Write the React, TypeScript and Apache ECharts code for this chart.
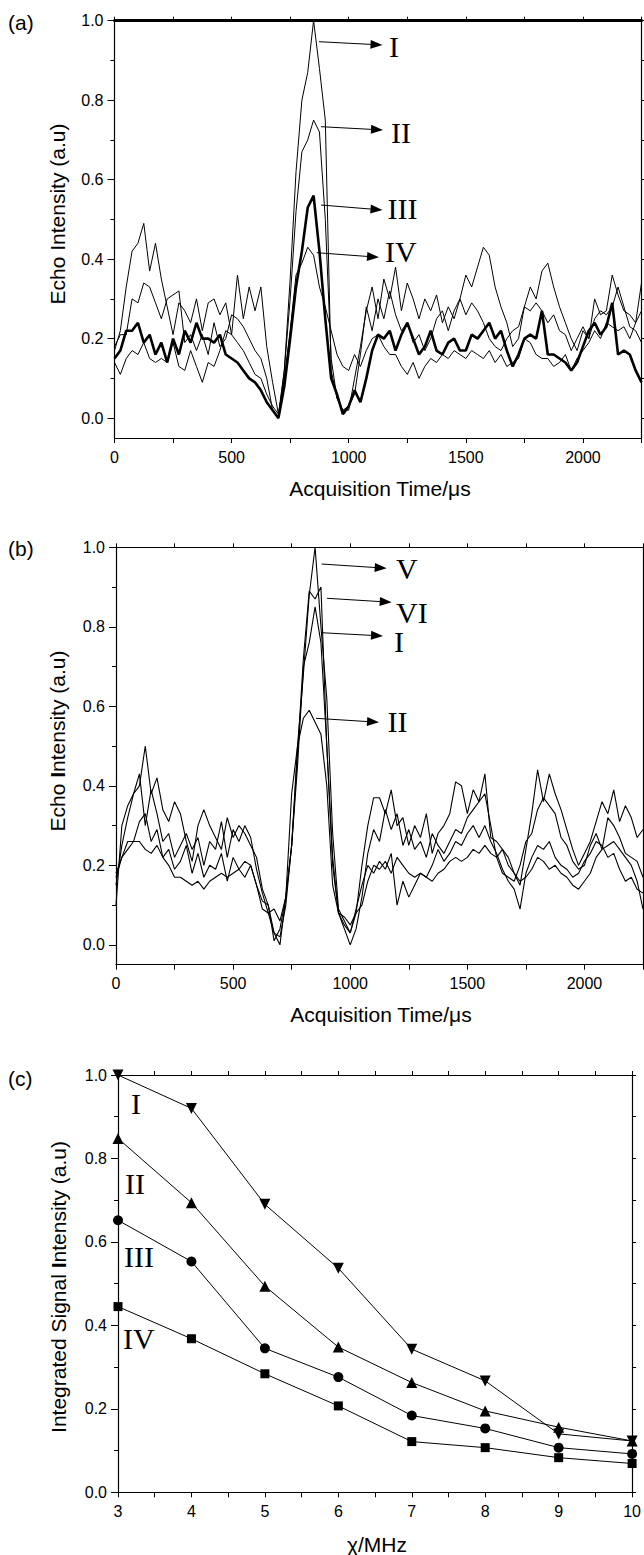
import React, { useEffect, useRef } from "react";
import * as echarts from "echarts";

// ---------- DATA ----------
// acquisition times (µs) of the sampled echo traces, every 25 µs from 0 to 2250
const times: number[] = Array.from({ length: 91 }, (_, i) => i * 25);

// panel (a) echo traces
const aI: number[] = [
  0.17, 0.22, 0.33, 0.42, 0.44, 0.49, 0.37, 0.44, 0.35, 0.28,
  0.21, 0.29, 0.27, 0.24, 0.30, 0.22, 0.29, 0.30, 0.26, 0.29,
  0.21, 0.36, 0.25, 0.33, 0.27, 0.33, 0.18, 0.09, 0.01, 0.12,
  0.35, 0.62, 0.80, 0.87, 1.00, 0.88, 0.75, 0.12, 0.05, 0.02,
  0.02, 0.10, 0.18, 0.27, 0.33, 0.25, 0.35, 0.30, 0.38, 0.27,
  0.34, 0.30, 0.25, 0.30, 0.27, 0.31, 0.24, 0.28, 0.25, 0.30,
  0.36, 0.33, 0.38, 0.43, 0.41, 0.33, 0.28, 0.24, 0.18, 0.20,
  0.28, 0.33, 0.30, 0.37, 0.39, 0.33, 0.28, 0.24, 0.20, 0.17,
  0.22, 0.20, 0.30, 0.26, 0.27, 0.36, 0.31, 0.27, 0.26, 0.24,
  0.34,
];
const aII: number[] = [
  0.18, 0.21, 0.21, 0.30, 0.29, 0.34, 0.33, 0.29, 0.25, 0.30,
  0.31, 0.32, 0.19, 0.21, 0.17, 0.21, 0.16, 0.24, 0.18, 0.20,
  0.26, 0.25, 0.23, 0.20, 0.17, 0.15, 0.10, 0.02, 0.00, 0.12,
  0.30, 0.52, 0.67, 0.70, 0.75, 0.72, 0.50, 0.15, 0.05, 0.02,
  0.03, 0.06, 0.16, 0.28, 0.22, 0.30, 0.25, 0.32, 0.26, 0.22,
  0.24, 0.19, 0.21, 0.17, 0.20, 0.25, 0.27, 0.22, 0.27, 0.30,
  0.26, 0.29, 0.27, 0.24, 0.20, 0.18, 0.17, 0.20, 0.22, 0.23,
  0.28, 0.27, 0.29, 0.27, 0.24, 0.26, 0.22, 0.21, 0.17, 0.20,
  0.23, 0.20, 0.25, 0.27, 0.26, 0.28, 0.33, 0.28, 0.23, 0.22,
  0.19,
];
const aIII: number[] = [
  0.15, 0.17, 0.22, 0.22, 0.24, 0.19, 0.21, 0.16, 0.19, 0.14,
  0.20, 0.16, 0.22, 0.19, 0.24, 0.20, 0.20, 0.19, 0.21, 0.16,
  0.15, 0.14, 0.12, 0.10, 0.09, 0.07, 0.04, 0.02, 0.00, 0.08,
  0.20, 0.33, 0.42, 0.53, 0.56, 0.42, 0.25, 0.10, 0.06, 0.01,
  0.03, 0.07, 0.04, 0.10, 0.17, 0.21, 0.20, 0.22, 0.17, 0.21,
  0.24, 0.20, 0.16, 0.18, 0.22, 0.17, 0.16, 0.19, 0.20, 0.17,
  0.17, 0.21, 0.20, 0.22, 0.24, 0.20, 0.22, 0.17, 0.13, 0.16,
  0.20, 0.21, 0.20, 0.27, 0.16, 0.16, 0.15, 0.14, 0.12, 0.14,
  0.18, 0.22, 0.24, 0.21, 0.23, 0.29, 0.16, 0.17, 0.16, 0.12,
  0.09,
];
const aIV: number[] = [
  0.14, 0.11, 0.15, 0.17, 0.16, 0.19, 0.15, 0.14, 0.15, 0.14,
  0.19, 0.13, 0.12, 0.17, 0.13, 0.09, 0.14, 0.13, 0.17, 0.22,
  0.21, 0.19, 0.17, 0.14, 0.11, 0.10, 0.06, 0.03, 0.01, 0.10,
  0.22, 0.36, 0.39, 0.43, 0.41, 0.33, 0.28, 0.22, 0.16, 0.13,
  0.12, 0.16, 0.13, 0.17, 0.20, 0.21, 0.18, 0.16, 0.16, 0.13,
  0.11, 0.14, 0.10, 0.13, 0.15, 0.14, 0.16, 0.15, 0.17, 0.16,
  0.15, 0.17, 0.16, 0.15, 0.17, 0.14, 0.16, 0.13, 0.14, 0.15,
  0.20, 0.19, 0.16, 0.15, 0.15, 0.13, 0.14, 0.16, 0.12, 0.15,
  0.17, 0.19, 0.22, 0.20, 0.24, 0.23, 0.22, 0.23, 0.20, 0.24,
  0.27,
];

// panel (b) echo traces
const bV: number[] = [
  0.10, 0.30, 0.35, 0.38, 0.40, 0.50, 0.38, 0.42, 0.34, 0.31,
  0.36, 0.33, 0.26, 0.21, 0.30, 0.34, 0.30, 0.27, 0.24, 0.32,
  0.27, 0.30, 0.28, 0.25, 0.22, 0.14, 0.10, 0.03, 0.02, 0.10,
  0.25, 0.50, 0.68, 0.88, 1.00, 0.80, 0.62, 0.28, 0.09, 0.06,
  0.03, 0.08, 0.20, 0.30, 0.37, 0.37, 0.33, 0.39, 0.30, 0.32,
  0.25, 0.30, 0.27, 0.33, 0.23, 0.28, 0.30, 0.33, 0.41, 0.40,
  0.33, 0.39, 0.36, 0.43, 0.27, 0.26, 0.24, 0.22, 0.18, 0.15,
  0.24, 0.33, 0.44, 0.36, 0.43, 0.38, 0.34, 0.29, 0.24, 0.20,
  0.23, 0.26, 0.31, 0.36, 0.33, 0.39, 0.31, 0.35, 0.32, 0.27,
  0.29,
];
const bVI: number[] = [
  0.15, 0.25, 0.32, 0.38, 0.43, 0.30, 0.39, 0.33, 0.26, 0.28,
  0.22, 0.25, 0.28, 0.24, 0.27, 0.20, 0.26, 0.24, 0.31, 0.22,
  0.29, 0.26, 0.30, 0.27, 0.19, 0.13, 0.08, 0.03, 0.00, 0.12,
  0.25, 0.48, 0.72, 0.89, 0.87, 0.90, 0.50, 0.22, 0.08, 0.04,
  0.00, 0.04, 0.12, 0.23, 0.29, 0.26, 0.34, 0.29, 0.33, 0.25,
  0.29, 0.24, 0.26, 0.22, 0.28, 0.25, 0.23, 0.26, 0.29, 0.28,
  0.32, 0.34, 0.36, 0.38, 0.30, 0.22, 0.18, 0.17, 0.16, 0.20,
  0.26, 0.28, 0.34, 0.37, 0.35, 0.33, 0.27, 0.25, 0.21, 0.19,
  0.20, 0.25, 0.28, 0.24, 0.32, 0.30, 0.27, 0.23, 0.22, 0.21,
  0.17,
];
const bI: number[] = [
  0.18, 0.22, 0.24, 0.26, 0.31, 0.33, 0.26, 0.29, 0.22, 0.24,
  0.19, 0.21, 0.25, 0.18, 0.23, 0.17, 0.20, 0.19, 0.23, 0.16,
  0.22, 0.19, 0.17, 0.20, 0.15, 0.11, 0.10, 0.01, 0.04, 0.12,
  0.25, 0.45, 0.70, 0.76, 0.85, 0.76, 0.50, 0.20, 0.08, 0.05,
  0.03, 0.09, 0.15, 0.20, 0.18, 0.21, 0.19, 0.23, 0.10, 0.16,
  0.12, 0.15, 0.18, 0.17, 0.20, 0.24, 0.21, 0.23, 0.26, 0.25,
  0.28, 0.30, 0.27, 0.30, 0.26, 0.23, 0.19, 0.16, 0.14, 0.09,
  0.18, 0.22, 0.25, 0.24, 0.26, 0.22, 0.20, 0.19, 0.17, 0.18,
  0.21, 0.23, 0.26, 0.25, 0.22, 0.23, 0.19, 0.16, 0.17, 0.14,
  0.13,
];
const bII: number[] = [
  0.17, 0.22, 0.26, 0.26, 0.26, 0.24, 0.23, 0.25, 0.22, 0.20,
  0.17, 0.17, 0.16, 0.15, 0.16, 0.14, 0.16, 0.17, 0.18, 0.17,
  0.18, 0.19, 0.21, 0.20, 0.15, 0.09, 0.08, 0.09, 0.06, 0.12,
  0.38, 0.50, 0.57, 0.59, 0.56, 0.53, 0.40, 0.15, 0.08, 0.07,
  0.05, 0.08, 0.10, 0.16, 0.20, 0.19, 0.21, 0.18, 0.22, 0.20,
  0.18, 0.17, 0.18, 0.17, 0.16, 0.18, 0.19, 0.21, 0.22, 0.21,
  0.22, 0.24, 0.23, 0.25, 0.23, 0.22, 0.24, 0.20, 0.18, 0.16,
  0.17, 0.19, 0.22, 0.21, 0.19, 0.20, 0.18, 0.17, 0.15, 0.14,
  0.16, 0.18, 0.22, 0.24, 0.25, 0.26, 0.24, 0.22, 0.20, 0.16,
  0.09,
];

// panel (c) integrated signal intensity vs frequency
const freqs: number[] = [3, 4, 5, 6, 7, 8, 9, 10];
const cI: number[] = [1.0, 0.92, 0.69, 0.537, 0.343, 0.267, 0.14, 0.123];
const cII: number[] = [0.848, 0.694, 0.494, 0.348, 0.263, 0.195, 0.156, 0.123];
const cIII: number[] = [0.652, 0.553, 0.345, 0.276, 0.184, 0.153, 0.107, 0.092];
const cIV: number[] = [0.445, 0.368, 0.284, 0.207, 0.1215, 0.107, 0.083, 0.069];

// tick labels
const timeMajor: number[] = [0, 500, 1000, 1500, 2000];
const timeMinor: number[] = [250, 750, 1250, 1750, 2250];
const intMajor: number[] = [0, 0.2, 0.4, 0.6, 0.8, 1.0];
const intMinor: number[] = [0.1, 0.3, 0.5, 0.7, 0.9];
const freqMajor: number[] = [3, 4, 5, 6, 7, 8, 9, 10];
const freqMinor: number[] = [3.5, 4.5, 5.5, 6.5, 7.5, 8.5, 9.5];

// ---------- STYLE ----------
const BLACK = "#000";
const SANS = "'Liberation Sans', Arial, Helvetica, sans-serif";
const SERIF = "'Liberation Serif', 'Times New Roman', serif";

function axesFor(
  g: number,
  xr: [number, number],
  yr: [number, number],
  xMaj: number[],
  xMin: number[],
  yMaj: number[],
  yMin: number[],
  xFmt: (v: number) => string,
  yFmt: (v: number) => string,
  topWidth: number
) {
  const line = (w: number) => ({ show: true, onZero: false, lineStyle: { color: BLACK, width: w } });
  const noLine = { show: false, onZero: false };
  const tick = (vals: number[], len: number) => ({
    show: true,
    inside: false,
    length: len,
    customValues: vals,
    lineStyle: { color: BLACK, width: 1 },
  });
  const lbl = (vals: number[], fmt: (v: number) => string, margin: number) => ({
    show: true,
    customValues: vals,
    formatter: fmt,
    color: BLACK,
    fontSize: 16,
    fontFamily: SANS,
    margin,
  });
  const base = { type: "value", gridIndex: g, splitLine: { show: false } };
  const x = [
    { ...base, position: "bottom", min: xr[0], max: xr[1], axisLine: line(1.2), axisTick: tick(xMaj, 5), axisLabel: lbl(xMaj, xFmt, 11) },
    { ...base, position: "bottom", min: xr[0], max: xr[1], axisLine: noLine, axisTick: tick(xMin, 5), axisLabel: { show: false } },
    { ...base, position: "top", min: xr[0], max: xr[1], axisLine: line(topWidth), axisTick: tick([...xMaj, ...xMin], 4), axisLabel: { show: false } },
  ];
  const y = [
    { ...base, position: "left", min: yr[0], max: yr[1], axisLine: line(1.2), axisTick: tick(yMaj, 7), axisLabel: lbl(yMaj, yFmt, 11) },
    { ...base, position: "left", min: yr[0], max: yr[1], axisLine: noLine, axisTick: tick(yMin, 4), axisLabel: { show: false } },
    { ...base, position: "right", min: yr[0], max: yr[1], axisLine: line(1.2), axisTick: tick([...yMaj, ...yMin], 4), axisLabel: { show: false } },
  ];
  return { x, y };
}

function trace(g: number, vals: number[], width: number) {
  return {
    type: "line",
    xAxisIndex: g * 3,
    yAxisIndex: g * 3,
    data: times.map((t, i) => [t, vals[i]]),
    symbol: "none",
    showSymbol: false,
    lineStyle: { color: BLACK, width },
    silent: true,
  };
}

function markerSeries(vals: number[], symbol: string, size: number, rotate: number) {
  return {
    type: "line",
    xAxisIndex: 6,
    yAxisIndex: 6,
    data: freqs.map((f, i) => [f, vals[i]]),
    symbol,
    symbolSize: size,
    symbolRotate: rotate,
    showSymbol: true,
    lineStyle: { color: BLACK, width: 1 },
    itemStyle: { color: BLACK, borderWidth: 0 },
    silent: true,
  };
}

function arrow(x1: number, y1: number, x2: number, y2: number) {
  const dx = x2 - x1;
  const dy = y2 - y1;
  const len = Math.hypot(dx, dy);
  const ux = dx / len;
  const uy = dy / len;
  const hl = 12;
  const hw = 4.5;
  const bx = x2 - ux * hl;
  const by = y2 - uy * hl;
  return [
    { type: "line", shape: { x1, y1, x2: bx + ux * 2, y2: by + uy * 2 }, style: { stroke: BLACK, lineWidth: 1 }, silent: true },
    {
      type: "polygon",
      shape: { points: [[x2, y2], [bx - uy * hw, by + ux * hw], [bx + uy * hw, by - ux * hw]] },
      style: { fill: BLACK },
      silent: true,
    },
  ];
}

function roman(txt: string, x: number, y: number) {
  return {
    type: "text",
    x,
    y,
    silent: true,
    style: { text: txt, fontSize: 30, fontFamily: SERIF, fill: BLACK, align: "left", verticalAlign: "middle" },
  };
}

function plainText(txt: string, x: number, y: number, size: number, rotation = 0, align = "center") {
  return {
    type: "text",
    x,
    y,
    rotation,
    silent: true,
    style: { text: txt, fontSize: size, fontFamily: SANS, fill: BLACK, align, verticalAlign: "middle" },
  };
}

function richYTitle(parts: string, x: number, y: number) {
  return {
    type: "text",
    x,
    y,
    rotation: Math.PI / 2,
    silent: true,
    style: {
      text: parts,
      align: "center",
      verticalAlign: "middle",
      fontSize: 21,
      fontFamily: SANS,
      fill: BLACK,
      rich: {
        n: { fontSize: 21, fontFamily: SANS, fill: BLACK },
        b: { fontSize: 21, fontFamily: SANS, fontWeight: "bold", fill: BLACK },
      },
    },
  };
}

export default function App() {
  const ref = useRef<HTMLDivElement>(null);

  useEffect(() => {
    if (!ref.current) return;
    const chart = echarts.init(ref.current, undefined, { renderer: "svg" });

    const intFmt = (v: number) => String(Math.round(v));
    const decFmt = (v: number) => v.toFixed(1);

    const A = axesFor(0, [0, 2250], [-0.05, 1.0], timeMajor, timeMinor, intMajor, intMinor, intFmt, decFmt, 3);
    const B = axesFor(1, [0, 2250], [-0.05, 1.0], timeMajor, timeMinor, intMajor, intMinor, intFmt, decFmt, 1.2);
    const C = axesFor(2, [3, 10], [0, 1.0], freqMajor, freqMinor, intMajor, intMinor, intFmt, decFmt, 1.2);

    const graphic: any[] = [
      plainText("(a)", 8, 22, 21, 0, "left"),
      plainText("(b)", 8, 548, 21, 0, "left"),
      plainText("(c)", 8, 1078, 21, 0, "left"),
      plainText("Echo Intensity (a.u)", 57, 214, 21, Math.PI / 2),
      richYTitle("{n|Echo }{b|I}{n|ntensity (a.u)}", 57, 741),
      richYTitle("{n|Integrated Signal }{b|I}{n|ntensity (a.u)}", 58, 1287),
      plainText("Acquisition Time/\u03bcs", 380, 488, 21),
      plainText("Acquisition Time/\u03bcs", 381, 1014, 21),
      plainText("\u03c7/MHz", 377, 1544, 21),
      ...arrow(319, 41.7, 382.5, 45), roman("I", 389, 46),
      ...arrow(321, 126.7, 383, 130), roman("II", 391, 132),
      ...arrow(321, 205, 382.5, 210), roman("III", 387.5, 208),
      ...arrow(316.7, 252.7, 379, 257.3), roman("IV", 385, 251),
      ...arrow(321.7, 564, 386.7, 568.3), roman("V", 396, 568),
      ...arrow(327, 598.3, 391.7, 602.3), roman("VI", 396, 612),
      ...arrow(321, 632.7, 383, 636), roman("I", 394, 641),
      ...arrow(316, 718.3, 379, 722.3), roman("II", 387.5, 721),
      roman("I", 131, 1103),
      roman("II", 125, 1183),
      roman("III", 124, 1256),
      roman("IV", 123, 1338),
    ];

    chart.setOption({
      animation: false,
      backgroundColor: "#fff",
      textStyle: { fontFamily: SANS },
      grid: [
        { left: 114.5, top: 20.7, width: 527, height: 417.3, containLabel: false },
        { left: 116, top: 547.3, width: 527, height: 417.4, containLabel: false },
        { left: 118, top: 1075, width: 524, height: 417.3, containLabel: false },
      ],
      xAxis: [...A.x, ...B.x, ...C.x],
      yAxis: [...A.y, ...B.y, ...C.y],
      series: [
        trace(0, aI, 1),
        trace(0, aII, 1),
        trace(0, aIV, 1),
        trace(0, aIII, 2.6),
        trace(1, bV, 1.1),
        trace(1, bVI, 1.1),
        trace(1, bI, 1.1),
        trace(1, bII, 1.1),
        markerSeries(cIV, "rect", 9, 0),
        markerSeries(cIII, "circle", 10, 0),
        markerSeries(cII, "triangle", 11, 0),
        markerSeries(cI, "triangle", 11, 180),
      ],
      graphic,
    });

    return () => {
      chart.dispose();
    };
  }, []);

  return (
    <div
      ref={ref}
      style={{ position: "absolute", left: 0, top: 0, width: 644, height: 1555, background: "#fff" }}
    />
  );
}
